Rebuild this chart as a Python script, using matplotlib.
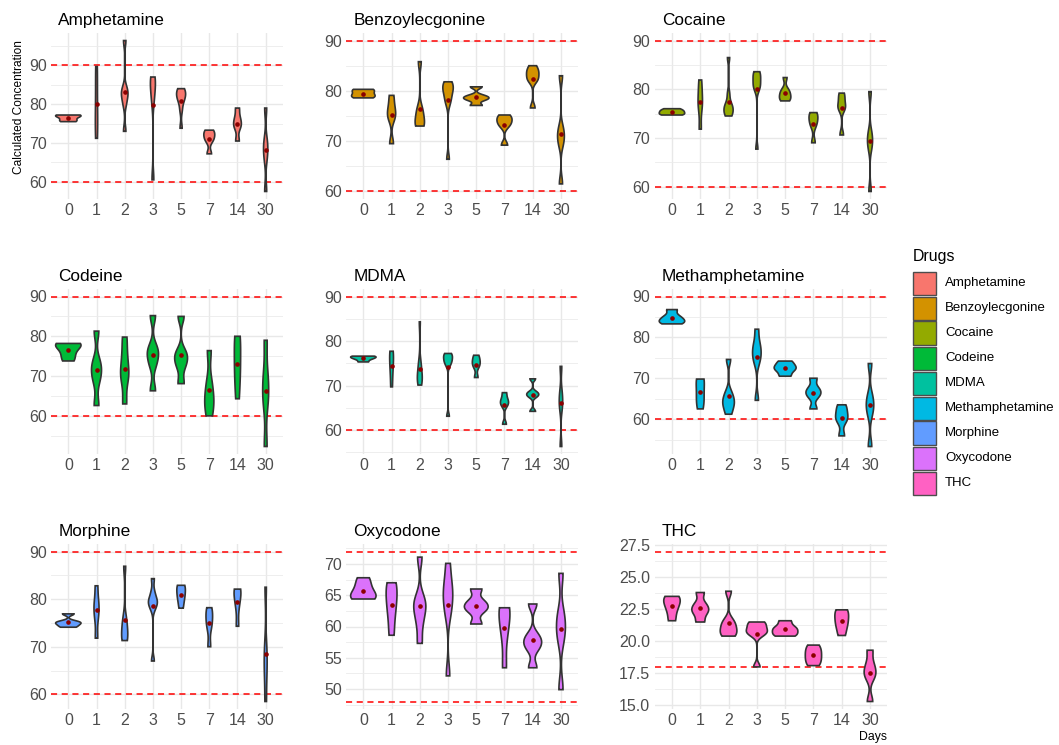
import numpy as np
import matplotlib
matplotlib.use("Agg")
import matplotlib.pyplot as plt
from matplotlib.ticker import MultipleLocator, FormatStrFormatter
from matplotlib.patches import Rectangle

plt.rcParams["font.family"] = ["Liberation Sans", "DejaVu Sans"]

DAYS = ["0", "1", "2", "3", "5", "7", "14", "30"]
DRUGS = ["Amphetamine", "Benzoylecgonine", "Cocaine", "Codeine", "MDMA",
         "Methamphetamine", "Morphine", "Oxycodone", "THC"]
COLORS = ["#F8766D", "#D39200", "#93AA00", "#00BA38", "#00C19F",
          "#00B9E3", "#619CFF", "#DB72FB", "#FF61C3"]
LOWER = [60, 60, 60, 60, 60, 60, 60, 48, 18]
UPPER = [90, 90, 90, 90, 90, 90, 90, 72, 27]
TICK_STEP = [10, 10, 10, 10, 10, 10, 10, 5, 2.5]

AMPHETAMINE = [
    [75.5, 75.9, 76.8, 77.2, 77.1],
    [71.2, 75.0, 78.0, 86.0, 89.7],
    [73.0, 80.0, 82.0, 83.0, 84.0, 96.4],
    [60.5, 81.0, 84.0, 86.0, 87.0],
    [73.8, 78.5, 80.8, 81.5, 82.2, 83.5, 84.0, 83.0],
    [67.2, 70.5, 71.5, 72.5, 73.3],
    [70.5, 74.0, 75.0, 76.5, 79.0],
    [57.5, 66.0, 68.5, 70.5, 79.0],
]
BENZOYLECGONINE = [
    [78.6, 78.9, 79.4, 80.3, 80.1],
    [69.5, 74.5, 75.5, 77.0, 79.1],
    [73.0, 73.2, 74.0, 75.5, 76.5, 85.8],
    [66.4, 77.5, 78.5, 79.5, 80.5, 81.8, 81.5, 80.5],
    [77.1, 78.2, 78.6, 79.0, 80.8],
    [69.2, 73.0, 73.8, 74.5, 75.2],
    [76.6, 82.0, 82.5, 83.5, 85.0, 84.0],
    [61.5, 69.5, 71.0, 72.5, 83.0],
]
COCAINE = [
    [74.7, 74.9, 75.3, 75.6, 76.0],
    [71.8, 76.0, 77.5, 79.5, 81.9],
    [74.5, 74.8, 75.5, 76.0, 76.5, 77.0, 79.0, 86.5],
    [67.7, 80.0, 81.0, 82.5, 83.6, 83.4, 80.5, 82.0],
    [77.6, 78.0, 78.6, 79.3, 79.9, 82.4],
    [69.0, 72.5, 73.5, 74.5, 75.2],
    [70.6, 76.0, 76.5, 78.0, 79.2],
    [59.0, 68.0, 69.5, 71.0, 79.5],
]
CODEINE = [
    [73.8, 75.5, 77.5, 78.0, 78.2],
    [62.6, 69.0, 71.5, 73.5, 81.3],
    [63.0, 69.5, 71.0, 75.0, 79.8],
    [66.3, 73.0, 75.5, 77.0, 85.2],
    [68.1, 72.5, 74.5, 76.0, 85.0],
    [60.0, 63.0, 65.0, 68.5, 76.4],
    [64.3, 70.0, 73.0, 78.5, 80.0],
    [52.3, 63.0, 66.5, 70.5, 79.0],
]
MDMA = [
    [75.3, 75.9, 76.2, 76.5, 76.6],
    [69.7, 73.0, 75.0, 77.0, 77.7],
    [70.1, 70.5, 71.0, 72.0, 72.5, 73.0, 74.5, 75.5, 84.3],
    [63.1, 74.5, 75.5, 76.5, 77.2, 76.8, 75.5],
    [71.8, 74.2, 75.0, 75.8, 76.8],
    [61.3, 65.5, 66.2, 67.0, 68.4],
    [64.2, 67.5, 68.0, 68.5, 71.5],
    [56.3, 65.0, 66.5, 68.5, 74.3],
]
METHAMPHETAMINE = [
    [83.3, 83.8, 84.4, 85.2, 86.8],
    [62.5, 64.5, 66.5, 69.5, 69.8],
    [61.2, 63.0, 64.0, 65.0, 66.5, 74.6],
    [64.6, 74.0, 75.5, 77.0, 78.5, 82.0],
    [70.5, 71.8, 72.5, 73.2, 74.2],
    [62.5, 65.5, 66.5, 67.5, 70.0],
    [55.9, 59.5, 60.5, 62.0, 63.5],
    [53.3, 61.5, 63.5, 65.5, 73.6],
]
MORPHINE = [
    [74.1, 74.6, 75.0, 75.3, 76.9],
    [71.8, 76.0, 78.0, 79.5, 82.8],
    [71.3, 71.6, 73.0, 74.5, 76.0, 86.9],
    [67.0, 78.0, 79.0, 80.0, 84.3, 81.5, 79.5],
    [78.1, 80.0, 81.0, 82.5, 82.9],
    [70.0, 74.0, 75.5, 77.0, 78.2],
    [74.3, 78.5, 80.5, 82.0, 82.1],
    [58.5, 64.0, 67.0, 70.0, 82.5],
]
OXYCODONE = [
    [64.4, 64.6, 65.3, 66.5, 67.8],
    [58.6, 62.0, 64.0, 66.0, 67.0],
    [57.3, 60.5, 62.5, 63.5, 64.5, 71.1],
    [52.1, 62.0, 64.0, 65.5, 67.0, 70.1],
    [60.4, 62.5, 63.2, 64.0, 66.0],
    [53.4, 58.5, 61.0, 63.0, 63.0],
    [53.4, 56.5, 57.5, 58.5, 63.6],
    [49.9, 58.0, 60.0, 62.0, 68.5],
]
THC = [
    [21.6, 22.4, 22.9, 23.3, 23.5],
    [21.5, 22.2, 22.5, 22.9, 23.8],
    [20.4, 20.6, 20.9, 21.3, 21.6, 23.9],
    [18.0, 20.5, 20.8, 21.1, 21.5, 21.4, 20.7],
    [20.4, 20.6, 20.9, 21.1, 21.6],
    [18.1, 18.5, 18.9, 19.3, 19.7],
    [20.45, 21.2, 21.6, 22.2, 22.45],
    [15.3, 17.2, 17.6, 18.2, 19.3],
]
ALL_DATA = [AMPHETAMINE, BENZOYLECGONINE, COCAINE, CODEINE, MDMA,
            METHAMPHETAMINE, MORPHINE, OXYCODONE, THC]

W, H = 1059, 745
COL_X = [(51.4, 282.6), (346.4, 577.9), (655.0, 887.0)]
ROW_Y = [(33.0, 199.0), (289.0, 454.0), (544.0, 709.0)]


def nrd0(x):
    sd = np.std(x, ddof=1)
    q25, q75 = np.percentile(x, [25, 75])
    lo = min(sd, (q75 - q25) / 1.34)
    if lo == 0:
        lo = sd if sd > 0 else 1.0
    return 0.9 * lo * len(x) ** -0.2


def ydensity(x, n=512):
    x = np.asarray(x, float)
    bw = nrd0(x)
    ys = np.linspace(x.min(), x.max(), n)
    z = (ys[:, None] - x[None, :]) / bw
    d = np.exp(-0.5 * z ** 2).sum(axis=1) / (len(x) * bw * np.sqrt(2 * np.pi))
    return ys, d


fig = plt.figure(figsize=(W / 100, H / 100), dpi=100)

for k, (name, color, groups) in enumerate(zip(DRUGS, COLORS, ALL_DATA)):
    r, c = divmod(k, 3)
    x0, x1 = COL_X[c]
    y0, y1 = ROW_Y[r]
    ax = fig.add_axes([x0 / W, 1 - y1 / H, (x1 - x0) / W, (y1 - y0) / H])

    dens = [ydensity(g) for g in groups]
    dmax = max(d.max() for _, d in dens)
    for i, (ys, d) in enumerate(dens):
        half = d / dmax * 0.45
        ax.fill(np.concatenate([i - half, (i + half)[::-1]]),
                np.concatenate([ys, ys[::-1]]),
                facecolor=color, edgecolor="#333333", linewidth=1.2, zorder=3)
        ax.plot(i, np.mean(groups[i]), "o", color="#8B0000", ms=2.3, zorder=4)

    ax.axhline(LOWER[k], color="red", linestyle=(0, (4, 3)), linewidth=1.1, zorder=2)
    ax.axhline(UPPER[k], color="red", linestyle=(0, (4, 3)), linewidth=1.1, zorder=2)

    lo = min(min(min(g) for g in groups), LOWER[k])
    hi = max(max(max(g) for g in groups), UPPER[k])
    pad = (hi - lo) * 0.05
    ax.set_ylim(lo - pad, hi + pad)
    ax.set_xlim(-0.6, len(DAYS) - 0.4)
    ax.set_xticks(range(len(DAYS)))
    ax.set_xticklabels(DAYS)
    ax.yaxis.set_major_locator(MultipleLocator(TICK_STEP[k]))
    ax.yaxis.set_minor_locator(MultipleLocator(TICK_STEP[k] / 2))
    if TICK_STEP[k] < 5:
        ax.yaxis.set_major_formatter(FormatStrFormatter("%.1f"))

    ax.grid(which="major", color="#E8E8E8", linewidth=1.0, zorder=0)
    ax.grid(which="minor", axis="y", color="#EBEBEB", linewidth=0.6, zorder=0)
    ax.set_axisbelow(True)
    for s in ax.spines.values():
        s.set_visible(False)
    ax.tick_params(which="both", length=0, labelsize=11.5, labelcolor="#4D4D4D")
    ax.tick_params(axis="x", pad=3.2)
    ax.tick_params(axis="y", pad=3.4)

    fig.text((x0 + 7) / W, 1 - (y0 - 8) / H, name, fontsize=12.4,
             ha="left", va="baseline", color="black")

fig.text(18.7 / W, 1 - 107 / H, "Calculated Concentration", rotation=90,
         fontsize=8.6, ha="center", va="center")
fig.text(887 / W, 1 - 740 / H, "Days", fontsize=8.8, ha="right", va="baseline")

# legend
fig.text(913 / W, 1 - 257 / H, "Drugs", fontsize=11.4, ha="left", va="center")
for k, (name, color) in enumerate(zip(DRUGS, COLORS)):
    yc = 283.3 + 25 * k
    fig.add_artist(Rectangle((913 / W, 1 - (yc + 11.8) / H), 23 / W, 23.6 / H,
                             transform=fig.transFigure, facecolor=color,
                             edgecolor="#4D4D4D", linewidth=1.0))
    fig.text(945 / W, 1 - yc / H, name, fontsize=9.5, ha="left", va="center")

fig.savefig("out.png", dpi=100, facecolor="white")
